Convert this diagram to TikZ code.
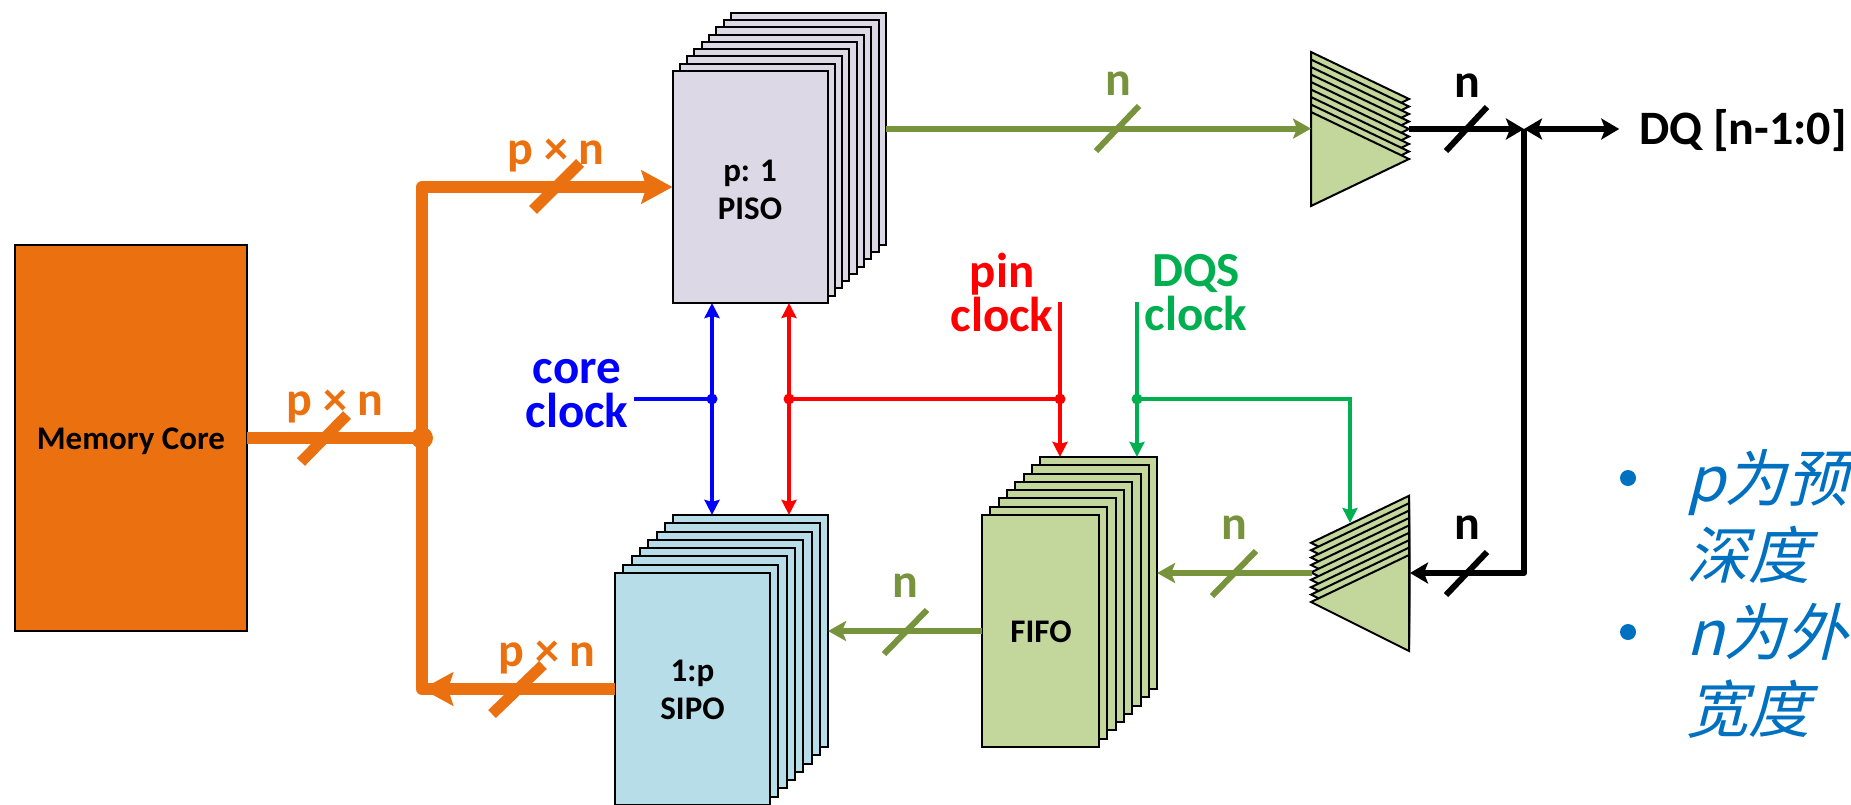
\documentclass[tikz,border=0pt]{standalone}
\usepackage{fontspec}
\setmainfont{Carlito}
\newfontfamily\cjkfont[FakeSlant=0.25]{Noto Sans CJK SC}
\usetikzlibrary{arrows.meta,positioning}
\definecolor{coreorange}{HTML}{EB700F}
\definecolor{pisofill}{HTML}{DDD8E6}
\definecolor{sipofill}{HTML}{B7DDE8}
\definecolor{fifofill}{HTML}{C3D69B}
\definecolor{olive}{HTML}{77933C}
\definecolor{dqsgreen}{HTML}{00B050}
\definecolor{notecolor}{HTML}{0070C0}
\tikzset{
every node/.style={outer sep=0pt,inner sep=0pt},
label/.style= {font=\fontsize{48}{48}\selectfont\bfseries},
clocklabel/.style= {align=center,font=\fontsize{49}{44}\selectfont\bfseries},
boxtext/.style= {align=center,font=\fontsize{33}{38}\selectfont\bfseries},
stackbox/.style= {rectangle,draw=black,line width=2pt,minimum height=232pt},
pisobox/.style= {stackbox,fill=pisofill,minimum width=155pt},
sipobox/.style= {stackbox,fill=sipofill,minimum width=155pt},
fifobox/.style= {stackbox,fill=fifofill,minimum width=117pt},
muxshape/.style= {draw=black,line width=2pt,line join=miter,fill=fifofill},
orangewire/.style= {draw=coreorange,line width=12pt,line join=round},
orangebus/.style= {orangewire,-{Stealth[length=31pt,width=33pt,inset=5pt]}},
olivebus/.style= {draw=olive,line width=6pt,-{Stealth[length=18pt,width=20pt,inset=4pt]}},
blackbus/.style= {draw=black,line width=6pt,line join=round,-{Stealth[length=18pt,width=21pt,inset=4pt]}},
clockwire/.style= {line width=3.5pt,-{Stealth[length=15pt,width=15pt,inset=2pt]}},
orangeslash/.style= {draw=coreorange,line width=11pt},
oliveslash/.style= {draw=olive,line width=6pt},
blackslash/.style= {draw=black,line width=6pt},
dot/.style= {circle,minimum size=11pt},
notetext/.style= {anchor=west,align=left,text=notecolor,font=\fontsize{62}{77}\selectfont\cjkfont},
bullet/.style= {circle,fill=notecolor,minimum size=16pt}
}

\begin{document}
\begin{tikzpicture}[x=1pt,y=-1pt]

\clip (0,0) rectangle (1851,804);

% the memory core and the three stacks
\node[rectangle,draw=black,line width=2pt,fill=coreorange,minimum width=232pt,minimum height=386pt] (core) at (131,438) {};
\node[font=\fontsize{33}{33}\selectfont\bfseries] (corename) at (131,441) {Memory Core};

\foreach \i in {8,...,1}
  \node[pisobox] (piso\i) at (750+7.3*\i,187-7.3*\i) {};
\node[pisobox] (piso0) at (750,187) {};
\node[boxtext] (pisoname) at (750,190) {p: 1\\PISO};

\foreach \i in {7,...,1}
  \node[sipobox] (sipo\i) at (692.5+8.3*\i,689-8.3*\i) {};
\node[sipobox] (sipo0) at (692.5,689) {};
\node[boxtext] (siponame) at (692.5,690) {1:p\\SIPO};

\foreach \i in {7,...,1}
  \node[fifobox] (fifo\i) at (1040.5+8.3*\i,631-8.3*\i) {};
\node[fifobox] (fifo0) at (1040.5,631) {};
\node[boxtext] (fifoname) at (1041,632) {FIFO};

% the two stacks of triangles
\foreach \i in {8,...,0} {
  \draw[muxshape] (1311,112-7.5*\i) -- (1409,159-7.5*\i) -- (1311,206-7.5*\i) -- cycle;
  \draw[muxshape] (1409,555-7.4*\i) -- (1311,602-7.4*\i) -- (1409,651-7.4*\i) -- cycle;
}

\coordinate (muxain) at (1311,129);
\coordinate (muxaout) at (1409,129);
\coordinate (muxbin) at (1410,573);
\coordinate (muxbout) at (1312,573);
\coordinate (muxbtop) at (1350,523);

% the orange buses
\coordinate (jcore) at (422,438);
\coordinate (jsipo) at (422,689);
\draw[orangewire] (core.east) -- (jcore);
\draw[orangebus] (jcore) |- (piso0.west);
\draw[orangewire] (jcore) |- (sipo0.west);
\draw[orangebus] (sipo0.west) -- (jsipo);
\node[dot,minimum size=22pt,fill=coreorange] (jdot) at (jcore) {};

% the olive and black buses
\draw[olivebus] (piso8.east) -- (muxain |- piso8.east);
\draw[olivebus] (muxbout) -- (muxbout -| fifo7.east);
\draw[olivebus] (fifo0.west) -- (fifo0.west -| sipo7.east);

\node[label] (dq) at (1743,131) {DQ [n-1:0]};
\coordinate (jdq) at (1524,129);
\draw[blackbus] (muxaout) -- (jdq);
\draw[blackbus,{Stealth[length=18pt,width=21pt,inset=4pt]}-{Stealth[length=18pt,width=21pt,inset=4pt]},shorten >=20pt] (jdq) -- (jdq -| dq.west);
\draw[blackbus] (jdq) |- (muxbin);

% the clock wires
\node[clocklabel,blue] (coreclk) at (577,394) {core\\clock};
\node[clocklabel,red] (pinclk) at (1002,292) {pin\\clock};
\node[clocklabel,dqsgreen] (dqsclk) at (1196,293) {DQS\\clock};

\coordinate (jblue) at (712,399);
\coordinate (jredl) at (789,399);
\coordinate (jredr) at (1060,399);
\coordinate (jgreen) at (1137,399);
\coordinate (pintop) at (1060,302);
\coordinate (dqstop) at (1137,302);

\draw[clockwire,draw=blue,-] (634,399) -- (jblue);
\draw[clockwire,draw=blue,blue] (jblue) -- (jblue |- piso0.south);
\draw[clockwire,draw=blue,blue] (jblue) -- (jblue |- sipo7.north);
\draw[clockwire,draw=red,red] (jredl) -- (jredl |- piso0.south);
\draw[clockwire,draw=red,red] (jredl) -- (jredl |- sipo7.north);
\draw[clockwire,draw=red,-] (jredl) -- (jredr);
\draw[clockwire,draw=red,red] (pintop) -- (pintop |- fifo7.north);
\draw[clockwire,draw=dqsgreen,dqsgreen] (dqstop) -- (dqstop |- fifo7.north);
\draw[clockwire,draw=dqsgreen,dqsgreen] (jgreen) -| (muxbtop);

\node[dot,fill=blue] (dotblue) at (jblue) {};
\node[dot,fill=red] (dotredl) at (jredl) {};
\node[dot,fill=red] (dotredr) at (jredr) {};
\node[dot,fill=dqsgreen] (dotgreen) at (jgreen) {};

% the bus width marks
\draw[orangeslash] (347,415) -- (301,462);
\draw[orangeslash] (580,163) -- (533,210);
\draw[orangeslash] (543,665) -- (492,714);
\draw[oliveslash] (1139,106) -- (1096,151);
\draw[oliveslash] (1256,551) -- (1212,596);
\draw[oliveslash] (927,610) -- (884,654);
\draw[blackslash] (1487,107) -- (1446,151);
\draw[blackslash] (1487,552) -- (1446,595);

\node[label,coreorange] (wcore) at (335,406) {p × n};
\node[label,coreorange] (wpiso) at (556,155) {p × n};
\node[label,coreorange] (wsipo) at (547,657) {p × n};
\node[label,olive] (wtop) at (1118,84) {n};
\node[label,olive] (wmux) at (1234,528) {n};
\node[label,olive] (wfifo) at (905,586) {n};
\node[label] (wdq) at (1467,86) {n};
\node[label] (wret) at (1467,528) {n};

% the notes at the right
\node[bullet] (bulleta) at (1628,478) {};
\node[bullet] (bulletb) at (1628,632) {};
\node[notetext] (notea) at (1686,516) {p为预\\深度};
\node[notetext] (noteb) at (1686,671) {n为外\\宽度};

\end{tikzpicture}
\end{document}
